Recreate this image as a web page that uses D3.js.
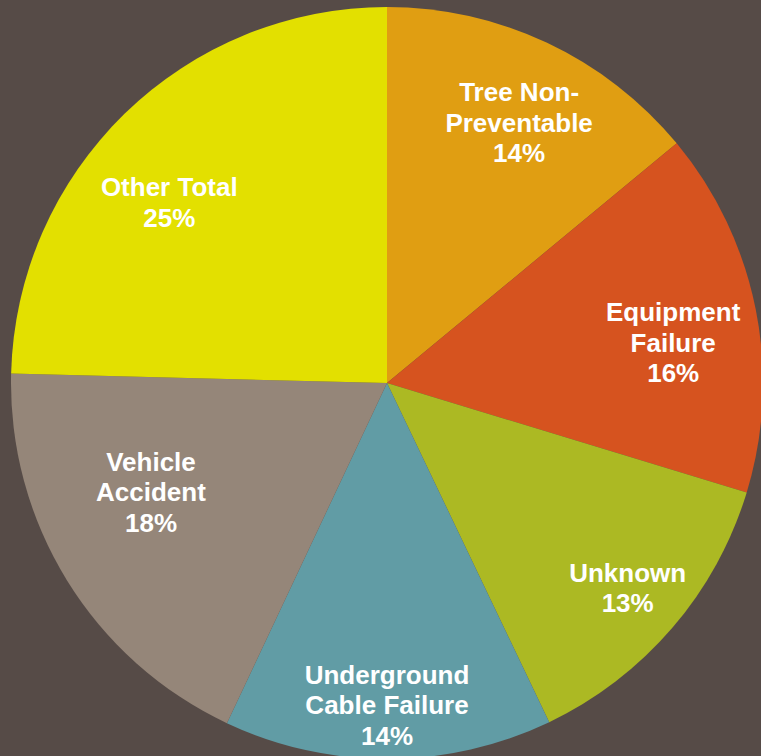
<!DOCTYPE html>
<html lang="en">
<head>
<meta charset="UTF-8">
<title>Outage causes pie</title>
<style type="text/css">
	body { margin: 0; background: #564b47; overflow: hidden; }
	.label { font-family: "Liberation Sans", Arial, sans-serif; font-weight: bold; font-size: 26px; fill: #fff }
</style>
<script src="https://cdn.jsdelivr.net/npm/d3@7"></script>
</head>
<body>
<script type="text/javascript">

// data (percent share, clockwise from 12 o'clock)
var causes = ['Tree Non-Preventable', 'Equipment Failure', 'Unknown', 'Underground Cable Failure', 'Vehicle Accident', 'Other Total'];
var shares = [14.0, 15.7, 13.2, 14.1, 18.4, 24.6];
var labelLines = [['Tree Non-', 'Preventable'], ['Equipment', 'Failure'], ['Unknown'], ['Underground', 'Cable Failure'], ['Vehicle', 'Accident'], ['Other Total']];
var colors = ['#e09e12', '#d6531f', '#acb923', '#619ca5', '#958679', '#e3e000'];

var width = 761, height = 756;
var cx = 387, cy = 383, radius = 376;

// label anchors: angle (deg, clockwise from top) and distance from centre
var labelAt = [[26.9, 292], [82, 289], [130.4, 316], [180, 322], [245.2, 260], [309.7, 283]];

var svg = d3.select('body')
	.append('svg')
	.attr('width', width)
	.attr('height', height);

var g = svg.append('g')
	.attr('transform', 'translate(' + cx + ',' + cy + ')');

var pie = d3.pie().sort(null).value(d => d);
var arc = d3.arc().innerRadius(0).outerRadius(radius);
var arcs = pie(shares);

g.selectAll('.slice')
	.data(arcs)
	.enter().append('path')
	.attr('class', 'slice')
	.attr('d', arc)
	.style('fill', (d, i) => colors[i]);

var lineH = 30.5;
var labels = g.selectAll('.label')
	.data(arcs)
	.enter().append('text')
	.attr('class', 'label')
	.attr('text-anchor', 'middle')
	.attr('transform', (d, i) => {
		var a = labelAt[i][0] * Math.PI / 180, r = labelAt[i][1];
		return 'translate(' + (r * Math.sin(a)) + ',' + (-r * Math.cos(a)) + ')';
	});

labels.each(function(d, i) {
	var lines = labelLines[i].concat([Math.round(shares[i]) + '%']);
	var n = lines.length;
	var t = d3.select(this);
	lines.forEach((s, k) => {
		t.append('tspan')
			.attr('x', 0)
			.attr('y', (k - (n - 1) / 2) * lineH)
			.attr('dy', '0.35em')
			.text(s);
	});
});

</script>
</body>
</html>
